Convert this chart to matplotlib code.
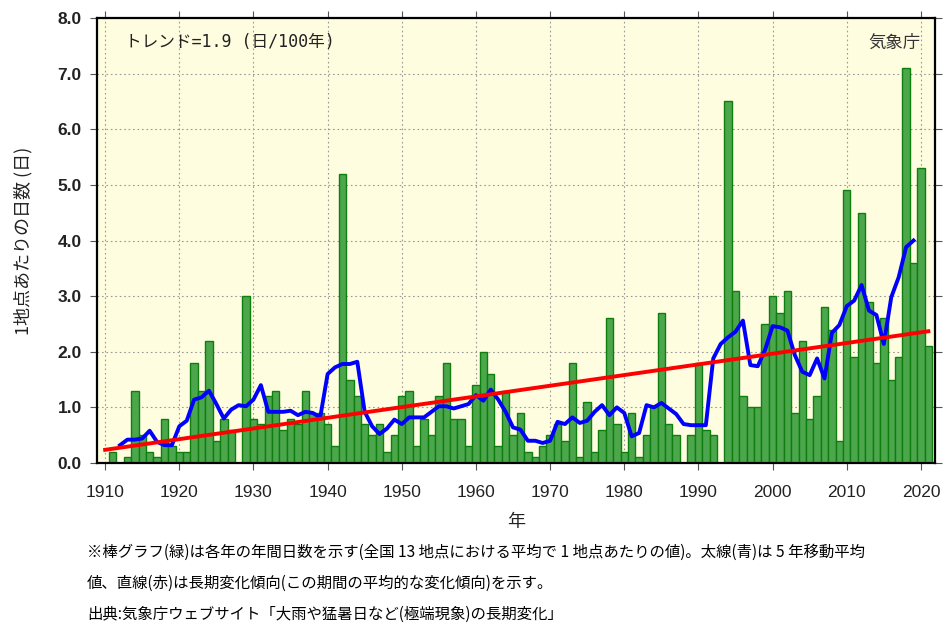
import numpy as np
import pandas as pd
import matplotlib
matplotlib.use('Agg')
import matplotlib.pyplot as plt

plt.rcParams['font.family'] = ['Noto Sans CJK JP', 'DejaVu Sans']

# yearly values (1910-2021)
years = list(range(1910, 2022))
days = [
    0.0, 0.2, 0.0, 0.1, 1.3, 0.5, 0.2, 0.1, 0.8, 0.3,   # 1910s
    0.2, 0.2, 1.8, 1.3, 2.2, 0.4, 0.8, 0.6, 0.0, 3.0,   # 1920s
    0.8, 0.7, 1.2, 1.3, 0.6, 0.8, 0.7, 1.3, 0.9, 0.9,   # 1930s
    0.7, 0.3, 5.2, 1.5, 1.2, 0.7, 0.5, 0.7, 0.2, 0.5,   # 1940s
    1.2, 1.3, 0.3, 0.8, 0.5, 1.2, 1.8, 0.8, 0.8, 0.3,   # 1950s
    1.4, 2.0, 1.6, 0.3, 1.3, 0.5, 0.9, 0.2, 0.1, 0.3,   # 1960s
    0.5, 0.7, 0.4, 1.8, 0.1, 1.1, 0.2, 0.6, 2.6, 0.7,   # 1970s
    0.2, 0.9, 0.1, 0.5, 1.0, 2.7, 0.7, 0.5, 0.0, 0.5,   # 1980s
    1.8, 0.6, 0.5, 0.0, 6.5, 3.1, 1.2, 1.0, 1.0, 2.5,   # 1990s
    3.0, 2.7, 3.1, 0.9, 2.2, 0.8, 1.2, 2.8, 2.4, 0.4,   # 2000s
    4.9, 1.9, 4.5, 2.9, 1.8, 2.6, 1.5, 1.9, 7.1, 3.6,   # 2010s
    5.3, 2.1,                                           # 2020s
]
trend_text = 'トレンド=1.9 (日/100年)'
xticks = list(range(1910, 2021, 10))
yticks = [0, 1, 2, 3, 4, 5, 6, 7, 8]

s = pd.Series(days, index=years)
ma5 = s.rolling(5, center=True).mean()
coef = np.polyfit(years, days, 1)
trend = np.polyval(coef, years)

fig = plt.figure(figsize=(9.48, 6.32), dpi=100)
ax = fig.add_axes([0.1023, 0.2674, 0.8840, 0.7041])
ax.set_facecolor('#fffddf')

ax.bar(years, days, width=1.0, color='#4ca64c', edgecolor='#0e7f0e', linewidth=1.0, zorder=2)
ax.plot(ma5.index, ma5.values, color='#0000ff', linewidth=2.8, zorder=3)
ax.plot(years, trend, color='#ff0000', linewidth=2.8, zorder=4)

ax.set_xlim(1908.9, 2021.9)
ax.set_ylim(0, 8)
ax.set_xticks(xticks)
ax.set_yticks(yticks)
ax.set_yticklabels(['%.1f' % v for v in yticks], fontsize=12.5, family='Liberation Sans', fontweight='bold', color='#222222')
ax.set_xticklabels([str(v) for v in xticks], fontsize=12.5, family='Liberation Sans', color='#222222')
ax.tick_params(direction='out', length=5, top=True, right=True, color='#555555')
ax.tick_params(axis='x', pad=11)
ax.tick_params(axis='y', pad=6)
ax.grid(True, linestyle=(0, (1.5, 2.5)), color='#999999', linewidth=0.8, zorder=1)
ax.set_axisbelow(True)
for sp in ax.spines.values():
    sp.set_linewidth(1.6)

ax.set_ylabel('1地点あたりの日数 (日)', fontsize=13, labelpad=18, color='#222222')
ax.set_xlabel('年', fontsize=13, labelpad=9, color='#222222')

ax.text(0.033, 0.945, trend_text, transform=ax.transAxes, fontsize=12, va='center', ha='left',
        family=['DejaVu Sans Mono', 'Noto Sans CJK JP'], color='#222222')
ax.text(0.983, 0.945, '気象庁', transform=ax.transAxes, fontsize=12.5, va='center', ha='right', color='#333333')

# notes under the chart
fig.text(0.092, 1 - 552 / 632, '※棒グラフ(緑)は各年の年間日数を示す(全国 13 地点における平均で 1 地点あたりの値)。太線(青)は 5 年移動平均',
         fontsize=11.1, va='center', ha='left')
fig.text(0.092, 1 - 583 / 632, '値、直線(赤)は長期変化傾向(この期間の平均的な変化傾向)を示す。',
         fontsize=11.1, va='center', ha='left')
fig.text(0.092, 1 - 614 / 632, '出典:気象庁ウェブサイト「大雨や猛暑日など(極端現象)の長期変化」',
         fontsize=11.1, va='center', ha='left')

fig.savefig('out.png', dpi=100)
